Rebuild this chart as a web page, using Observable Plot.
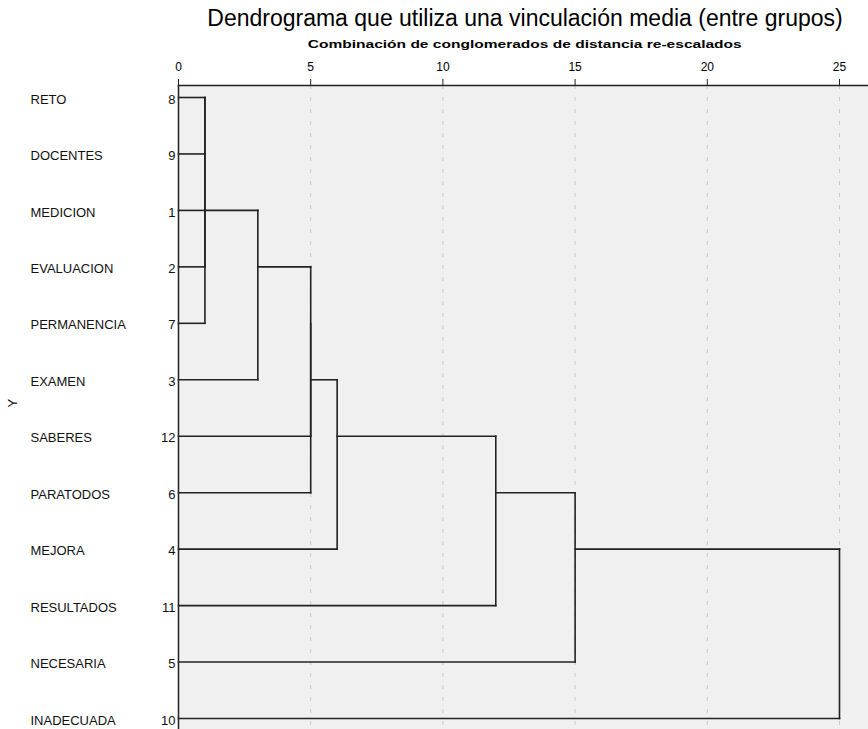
<!DOCTYPE html>
<html>
<head>
<meta charset="utf-8">
<script src="https://cdn.jsdelivr.net/npm/d3@7"></script>
<script src="https://cdn.jsdelivr.net/npm/@observablehq/plot@0.6"></script>
<style>
  body { margin: 0; background: #fff; font-family: "Liberation Sans", Arial, sans-serif; overflow: hidden; }
  #head { position: relative; height: 52px; width: 868px; }
  #title { position: absolute; left: 200px; width: 650px; top: 7px; text-align: center; font-size: 23px; line-height: 23px; color: #000; white-space: nowrap; }
  #subtitle { position: absolute; left: 200px; width: 650px; top: 39px; text-align: center; font-size: 11.5px; line-height: 11.5px; font-weight: bold; color: #000; white-space: nowrap; }
  #subtitle span { display: inline-block; transform: scaleX(1.35); }
</style>
</head>
<body>
<div id="head">
  <div id="title">Dendrograma que utiliza una vinculación media (entre grupos)</div>
  <div id="subtitle"><span>Combinación de conglomerados de distancia re-escalados</span></div>
</div>
<div id="chart"></div>
<script>
// Leaves in dendrogram order (top to bottom)
const labels = ["RETO", "DOCENTES", "MEDICION", "EVALUACION", "PERMANENCIA", "EXAMEN",
                "SABERES", "PARATODOS", "MEJORA", "RESULTADOS", "NECESARIA", "INADECUADA"];
const caseNumbers = [8, 9, 1, 2, 7, 3, 12, 6, 4, 11, 5, 10];

// Agglomeration schedule: clusters joined (by case number) and rescaled distance
const stageA = [1, 8, 1, 1, 1, 1, 1, 1, 1, 1, 1];
const stageB = [2, 9, 8, 7, 3, 12, 6, 4, 11, 5, 10];
const stageDist = [1, 1, 1, 1, 3, 5, 5, 6, 12, 15, 25];

// Axis ticks
const xTicks = [0, 5, 10, 15, 20, 25];
const gridTicks = [5, 10, 15, 20, 25];

// Build dendrogram segments from the schedule
const clusters = new Map();
caseNumbers.forEach((c, i) => clusters.set(c, {row: i, h: 0}));
const segments = [];
stageA.forEach((a, s) => {
  const b = stageB[s], d = stageDist[s];
  const ca = clusters.get(a), cb = clusters.get(b);
  if (d > ca.h) segments.push({x1: ca.h, y1: ca.row, x2: d, y2: ca.row});
  if (d > cb.h) segments.push({x1: cb.h, y1: cb.row, x2: d, y2: cb.row});
  segments.push({x1: d, y1: ca.row, x2: d, y2: cb.row});
  const row = Math.floor((ca.row + cb.row) / 2);
  clusters.set(a, {row, h: d});
  clusters.delete(b);
});

const chart = Plot.plot({
  width: 868,
  height: 677,
  marginLeft: 178,
  marginRight: 0,
  marginTop: 33,
  marginBottom: 0,
  style: {fontFamily: "'Liberation Sans', Arial, sans-serif", background: "#fff", color: "#000", overflow: "visible"},
  x: {domain: [0, 25], range: [178, 839]},
  y: {domain: [0, labels.length - 1], range: [45, 666], axis: null},
  marks: [
    Plot.frame({fill: "#f0f0f0", stroke: null}),
    Plot.ruleX(gridTicks, {stroke: "#c8c8c8", strokeWidth: 1, strokeDasharray: "4,8"}),
    Plot.frame({anchor: "top", stroke: "#222", strokeWidth: 1.5}),
    Plot.frame({anchor: "left", stroke: "#222", strokeWidth: 1.5}),
    Plot.axisX(xTicks, {anchor: "top", tickSize: 7, tickPadding: 8, fontSize: 12, label: null, stroke: "#222", fill: "#000"}),
    Plot.link(segments, {x1: "x1", y1: "y1", x2: "x2", y2: "y2", stroke: "#222", strokeWidth: 1.6, strokeLinecap: "square"}),
    Plot.text(labels, {x: 0, y: (d, i) => i, text: d => d, textAnchor: "start", dx: -148, dy: 2, fontSize: 13, fill: "#111"}),
    Plot.text(caseNumbers, {x: 0, y: (d, i) => i, text: d => String(d), textAnchor: "end", dx: -3, dy: 2, fontSize: 13, fill: "#111"}),
    Plot.text(["Y"], {frameAnchor: "left", text: d => d, rotate: -90, dx: -166, fontSize: 13, fill: "#111"})
  ]
});
document.getElementById("chart").appendChild(chart);
</script>
</body>
</html>
